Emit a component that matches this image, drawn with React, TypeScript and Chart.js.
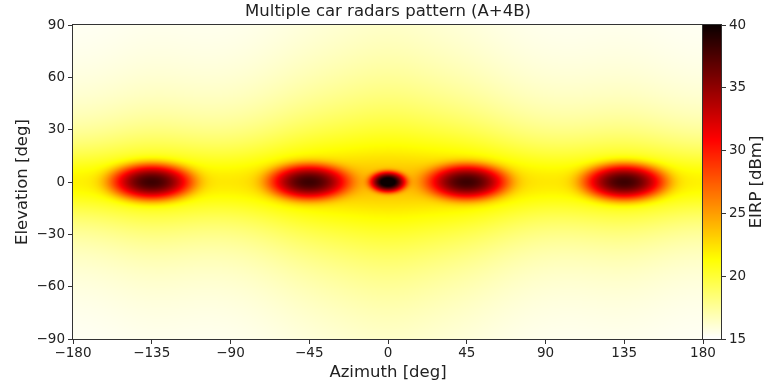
import React, { useEffect, useRef } from "react";
import { Chart, registerables } from "chart.js";

Chart.register(...registerables);

// ---- data ----
const azimuthTicks = [-180, -135, -90, -45, 0, 45, 90, 135, 180];
const elevationTicks = [-90, -60, -30, 0, 30, 60, 90];
const eirpTicks = [15, 20, 25, 30, 35, 40];

const azimuthRange = [-180, 180];
const elevationRange = [-90, 90];
const eirpRange = [15, 40];

// radars: A at boresight, four B radars
const radarAzimuth = [0, -135, -45, 45, 135];
const radarElevation = [0, 0, 0, 0, 0];
const radarPeakDbm = [42, 38, 38, 38, 38];
const radarMainSigmaAz = [4.0, 9.6, 9.6, 9.6, 9.6];
const radarMainSigmaEl = [2.3, 4.2, 4.2, 4.2, 4.2];
const radarSideDbm = [20, 20.4, 20.4, 20.4, 20.4];
const radarSideWidthAz = [45, 40, 40, 40, 40];
const radarSideWidthEl = [30, 15, 15, 15, 15];
const floorDbm = 14.8;
const gridStepDeg = 0.5;

const FONT = "'DejaVu Sans', sans-serif";
const TEXT = "#222";
const LINE = "#333";

function wrapDeg(d: number) {
  return ((((d + 180) % 360) + 360) % 360) - 180;
}

function eirpAt(az: number, el: number) {
  let mw = Math.pow(10, floorDbm / 10);
  for (let i = 0; i < radarAzimuth.length; i++) {
    const da = wrapDeg(az - radarAzimuth[i]);
    const de = el - radarElevation[i];
    const main =
      Math.pow(10, radarPeakDbm[i] / 10) *
      Math.exp(-0.5 * (da / radarMainSigmaAz[i]) ** 2 - 0.5 * (de / radarMainSigmaEl[i]) ** 2);
    const side =
      Math.pow(10, radarSideDbm[i] / 10) /
      ((1 + (da / radarSideWidthAz[i]) ** 2) * (1 + (de / radarSideWidthEl[i]) ** 2));
    mw += main + side;
  }
  return 10 * Math.log10(mw);
}

function hotR(v: number): [number, number, number] {
  let t = (v - eirpRange[0]) / (eirpRange[1] - eirpRange[0]);
  t = Math.min(1, Math.max(0, t));
  const s = 1 - t;
  const r = s >= 0.365079 ? 1 : 0.0416 + (1 - 0.0416) * (s / 0.365079);
  const g = s <= 0.365079 ? 0 : s >= 0.746032 ? 1 : (s - 0.365079) / (0.746032 - 0.365079);
  const b = s <= 0.746032 ? 0 : (s - 0.746032) / (1 - 0.746032);
  return [Math.round(r * 255), Math.round(g * 255), Math.round(b * 255)];
}

let heatImage: HTMLCanvasElement | null = null;
function getHeatImage() {
  if (heatImage) return heatImage;
  const nx = Math.round((azimuthRange[1] - azimuthRange[0]) / gridStepDeg);
  const ny = Math.round((elevationRange[1] - elevationRange[0]) / gridStepDeg);
  const c = document.createElement("canvas");
  c.width = nx;
  c.height = ny;
  const cx = c.getContext("2d")!;
  const img = cx.createImageData(nx, ny);
  for (let j = 0; j < ny; j++) {
    const el = elevationRange[1] - (j + 0.5) * gridStepDeg;
    for (let i = 0; i < nx; i++) {
      const az = azimuthRange[0] + (i + 0.5) * gridStepDeg;
      const [r, g, b] = hotR(eirpAt(az, el));
      const k = (j * nx + i) * 4;
      img.data[k] = r;
      img.data[k + 1] = g;
      img.data[k + 2] = b;
      img.data[k + 3] = 255;
    }
  }
  cx.putImageData(img, 0, 0);
  heatImage = c;
  return c;
}

const minus = (v: number | string) => String(v).replace("-", "\u2212");

const heatmapPlugin = {
  id: "heatmap",
  beforeDatasetsDraw(chart: any) {
    const { ctx, scales } = chart;
    const x = scales.x;
    const y = scales.y;
    const x0 = x.getPixelForValue(azimuthRange[0]);
    const x1 = x.getPixelForValue(azimuthRange[1]);
    const y0 = y.getPixelForValue(elevationRange[1]);
    const y1 = y.getPixelForValue(elevationRange[0]);
    ctx.save();
    ctx.imageSmoothingEnabled = true;
    (ctx as any).imageSmoothingQuality = "high";
    ctx.drawImage(getHeatImage(), x0, y0, x1 - x0, y1 - y0);
    ctx.restore();
  },
  afterDraw(chart: any) {
    const { ctx, chartArea: a } = chart;
    ctx.save();
    ctx.strokeStyle = LINE;
    ctx.lineWidth = 1;
    ctx.strokeRect(a.left - 0.5, a.top - 0.5, a.right - a.left + 1, a.bottom - a.top + 1);
    ctx.restore();
  },
};

const colorbarPlugin = {
  id: "colorbar",
  beforeDatasetsDraw(chart: any) {
    const { ctx, chartArea: a, scales } = chart;
    const y = scales.y;
    const top = Math.round(y.getPixelForValue(eirpRange[1]));
    const bottom = Math.round(y.getPixelForValue(eirpRange[0]));
    ctx.save();
    for (let py = top; py < bottom; py++) {
      const v = y.getValueForPixel(py + 0.5);
      const [r, g, b] = hotR(v);
      ctx.fillStyle = `rgb(${r},${g},${b})`;
      ctx.fillRect(a.left, py, a.right - a.left, 1);
    }
    ctx.restore();
  },
  afterDraw(chart: any) {
    const { ctx, chartArea: a } = chart;
    ctx.save();
    ctx.strokeStyle = LINE;
    ctx.lineWidth = 1;
    ctx.strokeRect(a.left - 0.5, a.top - 0.5, a.right - a.left + 1, a.bottom - a.top + 1);
    ctx.fillStyle = TEXT;
    ctx.font = `16.5px ${FONT}`;
    ctx.textAlign = "center";
    ctx.textBaseline = "middle";
    ctx.translate(67, (a.top + a.bottom) / 2);
    ctx.rotate(-Math.PI / 2);
    ctx.fillText("EIRP [dBm]", 0, 0);
    ctx.restore();
  },
};

export default function App() {
  const mainRef = useRef<HTMLCanvasElement>(null);
  const barRef = useRef<HTMLCanvasElement>(null);

  useEffect(() => {
    const tickFont = { family: FONT, size: 13.5 };
    const main = new Chart(mainRef.current!, {
      type: "scatter",
      data: { datasets: [{ data: [] }] },
      options: {
        animation: false,
        responsive: false,
        layout: { padding: { left: 0, right: 65, top: 0, bottom: 0 } },
        plugins: {
          legend: { display: false },
          tooltip: { enabled: false },
          title: {
            display: true,
            text: "Multiple car radars pattern (A+4B)",
            color: TEXT,
            font: { family: FONT, size: 16.5, weight: "normal" },
            padding: { top: 2, bottom: 3.2 },
            fullSize: false,
          } as any,
        },
        scales: {
          x: {
            type: "linear",
            min: azimuthRange[0],
            max: azimuthRange[1],
            afterBuildTicks: (s: any) => {
              s.ticks = azimuthTicks.map((v) => ({ value: v }));
            },
            afterFit: (s: any) => {
              s.height = 51;
            },
            ticks: {
              autoSkip: false,
              maxRotation: 0,
              color: TEXT,
              font: tickFont,
              padding: 1,
              callback: (v: any) => minus(v),
            },
            grid: { drawOnChartArea: false, drawTicks: true, tickLength: 5, color: LINE },
            border: { display: false },
            title: {
              display: true,
              text: "Azimuth [deg]",
              color: TEXT,
              font: { family: FONT, size: 16.5 },
              padding: { top: 0, bottom: 7 },
            },
          },
          y: {
            type: "linear",
            min: elevationRange[0],
            max: elevationRange[1],
            afterBuildTicks: (s: any) => {
              s.ticks = elevationTicks.map((v) => ({ value: v }));
            },
            afterFit: (s: any) => {
              s.width = 73;
            },
            ticks: {
              autoSkip: false,
              color: TEXT,
              font: tickFont,
              padding: 3,
              callback: (v: any) => minus(v),
            },
            grid: { drawOnChartArea: false, drawTicks: true, tickLength: 5, color: LINE },
            border: { display: false },
            title: {
              display: true,
              text: "Elevation [deg]",
              color: TEXT,
              font: { family: FONT, size: 16.5 },
              padding: { top: 13, bottom: 0 },
            },
          },
        },
      },
      plugins: [heatmapPlugin],
    });

    const bar = new Chart(barRef.current!, {
      type: "scatter",
      data: { datasets: [{ data: [] }] },
      options: {
        animation: false,
        responsive: false,
        layout: { padding: { left: 13, right: 0, top: 25, bottom: 51 } },
        plugins: { legend: { display: false }, tooltip: { enabled: false } },
        scales: {
          x: { type: "linear", display: false, min: 0, max: 1 },
          y: {
            type: "linear",
            position: "right",
            min: eirpRange[0],
            max: eirpRange[1],
            afterBuildTicks: (s: any) => {
              s.ticks = eirpTicks.map((v) => ({ value: v }));
            },
            afterFit: (s: any) => {
              s.width = 47;
            },
            ticks: { color: TEXT, font: tickFont, padding: 3 },
            grid: { drawOnChartArea: false, drawTicks: true, tickLength: 5, color: LINE },
            border: { display: false },
          },
        },
      },
      plugins: [colorbarPlugin],
    });

    return () => {
      main.destroy();
      bar.destroy();
    };
  }, []);

  return (
    <div style={{ position: "fixed", left: 0, top: 0, width: 768, height: 390, background: "#fff" }}>
      <canvas ref={mainRef} width={768} height={390} style={{ position: "absolute", left: 0, top: 0 }} />
      <canvas ref={barRef} width={78} height={390} style={{ position: "absolute", left: 690, top: 0 }} />
    </div>
  );
}
